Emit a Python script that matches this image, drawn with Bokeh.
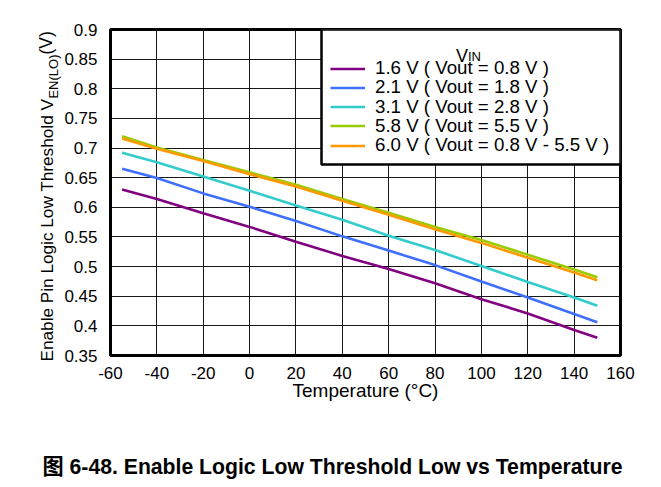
from bokeh.plotting import figure
from bokeh.models import Range1d, FixedTicker, Label, BoxAnnotation, Legend, LegendItem
from bokeh.embed import file_html
from bokeh.resources import INLINE
import math

# ---------------- data ----------------
temperature = [-55, -40, -20, 0, 20, 40, 60, 80, 100, 120, 140, 150]
v_1p6 = [0.630, 0.614, 0.590, 0.567, 0.542, 0.518, 0.496, 0.472, 0.445, 0.421, 0.393, 0.380]
v_2p1 = [0.665, 0.6495, 0.6235, 0.601, 0.577, 0.551, 0.527, 0.5025, 0.475, 0.448, 0.420, 0.406]
v_3p1 = [0.692, 0.676, 0.652, 0.628, 0.603, 0.579, 0.552, 0.528, 0.501, 0.474, 0.448, 0.434]
v_5p8 = [0.720, 0.701, 0.680, 0.659, 0.638, 0.614, 0.591, 0.567, 0.545, 0.520, 0.495, 0.482]
v_6p0 = [0.716, 0.699, 0.678, 0.656, 0.635, 0.611, 0.5875, 0.563, 0.540, 0.515, 0.490, 0.477]

series_labels = [
    "1.6 V ( Vout = 0.8 V )",
    "2.1 V ( Vout = 1.8 V )",
    "3.1 V ( Vout = 2.8 V )",
    "5.8 V ( Vout = 5.5 V )",
    "6.0 V ( Vout = 0.8 V - 5.5 V )",
]
series_values = [v_1p6, v_2p1, v_3p1, v_5p8, v_6p0]
series_colors = ["#800080", "#3F6FFF", "#33CCCC", "#99CC00", "#FF9900"]

x_ticks = [-60, -40, -20, 0, 20, 40, 60, 80, 100, 120, 140, 160]
x_tick_labels = ["-60", "-40", "-20", "0", "20", "40", "60", "80", "100", "120", "140", "160"]
y_ticks = [0.35, 0.4, 0.45, 0.5, 0.55, 0.6, 0.65, 0.7, 0.75, 0.8, 0.85, 0.9]
y_tick_labels = ["0.35", "0.4", "0.45", "0.5", "0.55", "0.6", "0.65", "0.7", "0.75", "0.8", "0.85", "0.9"]

x_title = "Temperature (°C)"
y_title_main = "Enable Pin Logic Low Threshold V"
y_title_sub = "EN(LO)"
y_title_end = " (V)"
legend_title_main = "V"
legend_title_sub = "IN"
caption = "图 6-48. Enable Logic Low Threshold Low vs Temperature"

FONT = "Liberation Sans"

# ---------------- figure ----------------
p = figure(
    width=653, height=479,
    x_range=Range1d(-60, 160), y_range=Range1d(0.35, 0.9),
    output_backend="svg", toolbar_location=None,
    min_border_left=110, min_border_right=33,
    min_border_top=29, min_border_bottom=124,
)
p.background_fill_color = "white"
p.border_fill_color = "white"
p.outline_line_color = "black"
p.outline_line_width = 3

p.xaxis.ticker = FixedTicker(ticks=x_ticks)
p.yaxis.ticker = FixedTicker(ticks=y_ticks)
p.xaxis.major_label_overrides = {t: s for t, s in zip(x_ticks, x_tick_labels)}
p.yaxis.major_label_overrides = {t: s for t, s in zip(y_ticks, y_tick_labels)}
for ax in (p.xaxis, p.yaxis):
    ax.axis_line_color = None
    ax.major_tick_line_color = None
    ax.minor_tick_line_color = None
    ax.major_label_text_font = FONT
    ax.major_label_text_font_size = "17px"
    ax.major_label_text_color = "black"
p.xaxis.major_label_standoff = 5
p.yaxis.major_label_standoff = 7

p.xaxis.axis_label = x_title
p.xaxis.axis_label_text_font = FONT
p.xaxis.axis_label_text_font_size = "19px"
p.xaxis.axis_label_text_font_style = "normal"
p.xaxis.axis_label_text_color = "black"
p.xaxis.axis_label_standoff = -2

p.xgrid.grid_line_color = "black"
p.ygrid.grid_line_color = "black"
p.xgrid.grid_line_width = 1
p.ygrid.grid_line_width = 1
p.xgrid.grid_line_alpha = 0.9
p.ygrid.grid_line_alpha = 0.9

renderers = []
for vals, col in zip(series_values, series_colors):
    r = p.line(temperature, vals, line_color=col, line_width=2.6)
    renderers.append(r)

# legend box (frame-relative screen units)
p.add_layout(BoxAnnotation(left=211, right=510, top=326, bottom=191,
                           left_units="screen", right_units="screen",
                           top_units="screen", bottom_units="screen",
                           fill_color="white", fill_alpha=1,
                           line_color="black", line_width=2.5, line_alpha=1))

# one legend per entry so the rows sit at the reference spacing
row_bottoms = [275.9, 256.6, 237.4, 218.1, 198.9]
for lab_txt, r, vb in zip(series_labels, renderers, row_bottoms):
    lg = Legend(
        items=[LegendItem(label=lab_txt, renderers=[r])],
        location=(220, vb),
        padding=0, spacing=0, margin=0,
        border_line_color=None, background_fill_alpha=0,
        glyph_width=35, glyph_height=19, label_height=19, label_standoff=10,
        label_text_font=FONT, label_text_font_size="18.7px", label_text_color="black",
    )
    p.add_layout(lg)

def mklab(text, x, y, size, **kw):
    d = dict(x=x, y=y, x_units="screen", y_units="screen", text=text,
             text_font=kw.pop("font", FONT), text_font_size=size,
             text_color="black", text_baseline="middle", text_align="left")
    d.update(kw)
    return Label(**d)

# legend title V_IN
p.add_layout(mklab(legend_title_main, 345.5, 299.5, "18px", text_baseline="alphabetic"))
p.add_layout(mklab(legend_title_sub, 357.5, 299, "13px", text_baseline="alphabetic"))

# y-axis title (rotated, built from pieces, each piece in its own left panel column)
ang = math.pi / 2
p.add_layout(mklab(y_title_main, 5, -6, "17.2px", angle=ang), "left")
p.add_layout(mklab(y_title_sub, 26.5, -6 + 262.9, "13px", angle=ang), "left")
p.add_layout(mklab(y_title_end, 39, -6 + 262.9 + 44.1, "17.5px", angle=ang), "left")

# caption, as a label in the panel below the plot
p.add_layout(mklab(caption, -68, -39.5, "21.2px", text_font_style="bold",
                   font="Liberation Sans, Noto Sans CJK SC"), "below")

open("out.html", "w").write(file_html(p, INLINE))
